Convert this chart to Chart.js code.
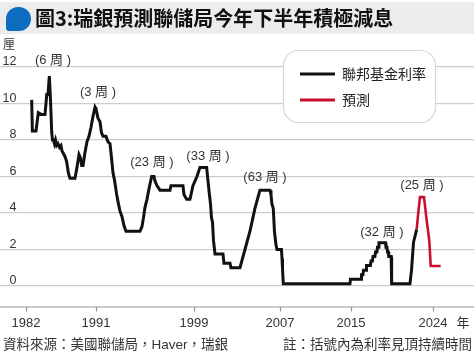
<!DOCTYPE html>
<html>
<head>
<meta charset="utf-8">
<script src="https://cdn.jsdelivr.net/npm/chart.js@4"></script>
<style>
html,body{margin:0;padding:0;background:#fff;}
#wrap{position:relative;width:474px;height:357px;}
</style>
</head>
<body>
<div id="wrap"><canvas id="c" width="474" height="357"></canvas></div>
<script>
const titleText = '圖3:瑞銀預測聯儲局今年下半年積極減息';
const unitText = '厘';
const sourceText = '資料來源：美國聯儲局，Haver，瑞銀';
const noteText = '註：括號內為利率見頂持續時間';
const xUnitText = '年';

const fedYears = [1982.72,1982.79,1983.17,1983.41,1983.76,1984.11,1984.29,1984.42,1984.56,1984.68,1984.81,1984.89,1984.99,1985.09,1985.20,1985.32,1985.46,1985.62,1985.77,1985.88,1986.19,1986.37,1986.54,1986.71,1987.23,1987.44,1987.65,1987.81,1987.93,1988.07,1988.27,1988.48,1988.69,1988.90,1989.11,1989.32,1989.42,1989.63,1989.84,1989.99,1990.15,1990.46,1990.67,1990.88,1991.04,1991.19,1991.35,1991.58,1991.76,1991.92,1992.13,1992.34,1992.55,1994.00,1994.21,1994.37,1994.52,1994.73,1994.97,1995.22,1995.46,1995.57,1995.77,1996.09,1997.13,1997.23,1998.48,1998.59,1998.87,1999.21,1999.32,1999.52,1999.73,1999.94,2000.25,2000.95,2001.04,2001.14,2001.24,2001.35,2001.45,2001.56,2001.66,2001.82,2002.65,2002.75,2003.38,2003.48,2004.42,2004.94,2005.46,2005.98,2006.50,2007.55,2007.65,2007.75,2007.89,2008.01,2008.17,2008.28,2008.74,2008.80,2008.85,2008.93,2015.88,2015.93,2017.03,2017.08,2017.23,2017.29,2017.55,2017.60,2018.01,2018.07,2018.22,2018.28,2018.48,2018.54,2018.69,2018.74,2018.85,2018.90,2019.58,2019.63,2019.73,2019.79,2019.87,2019.92,2020.17,2020.22,2022.13,2022.18,2022.29,2022.39,2022.50,2022.83];
const fedRates = [10.2,8.5,8.5,9.5,9.4,9.4,10.5,10.5,11.5,10.2,8.4,8.0,8.0,7.8,8.0,7.7,7.8,7.6,7.7,7.4,7.1,6.8,6.2,5.9,5.9,6.5,7.2,7.0,6.6,6.6,7.3,7.9,8.2,8.7,9.3,9.8,9.7,9.2,9.0,8.4,8.2,8.2,7.9,7.8,7.0,6.2,5.8,5.0,4.5,4.1,3.8,3.3,3.0,3.0,3.25,3.75,4.3,4.75,5.4,6.0,6.0,5.75,5.5,5.25,5.25,5.5,5.5,5.0,4.75,4.75,5.0,5.5,5.75,6.0,6.5,6.5,6.0,5.5,5.0,4.5,3.75,3.5,2.5,1.75,1.75,1.25,1.25,1.0,1.0,2.0,3.0,4.25,5.25,5.25,5.0,4.5,4.25,3.0,2.25,2.0,2.0,1.5,1.0,0.12,0.12,0.37,0.37,0.62,0.62,0.87,0.87,1.12,1.12,1.37,1.37,1.62,1.62,1.87,1.87,2.12,2.12,2.37,2.37,2.12,2.12,1.87,1.87,1.62,1.62,0.12,0.12,0.37,0.87,1.6,2.4,3.1];

const fcstYears = [2022.83,2022.99,2023.17,2023.59,2023.87,2024.14,2024.29,2025.33];
const fcstRates = [3.1,4.0,4.87,4.87,3.6,2.5,1.1,1.1];

const seriesLabels = ['聯邦基金利率','預測'];
const seriesColors = ['#111111','#c8102e'];

const yTickValues = [0,2,4,6,8,10,12];
const yTickLabels = ['0','2','4','6','8','10','12'];
const xTickYears = [1982.13,1989.42,1999.63,2008.59,2015.98,2024.52];
const xTickLabels = ['1982','1991','1999','2007','2015','2024'];

const noteLabels = ['(6 周 )','(3 周 )','(23 周 )','(33 周 )','(63 周 )','(32 周 )','(25 周 )'];
const noteYears = [1984.94,1989.63,1995.25,2001.09,2007.03,2019.21,2023.38];
const noteRates = [12.38,10.63,6.79,7.12,5.97,2.96,5.53];

const FONT = '"Liberation Sans","Noto Sans CJK TC",sans-serif';
const TEXT = '#333';

const decor = {
  id: 'decor',
  beforeDraw(chart) {
    const ctx = chart.ctx;
    ctx.save();
    ctx.fillStyle = '#fff';
    ctx.fillRect(0, 0, chart.width, chart.height);
    ctx.fillStyle = '#ececec';
    ctx.fillRect(0, 2, chart.width, 32);
    ctx.fillStyle = '#0e6cc0';
    ctx.beginPath();
    ctx.roundRect(6, 7, 25, 24, [12, 12, 12, 3]);
    ctx.fill();
    ctx.fillStyle = '#111';
    ctx.font = 'bold 20px "Noto Sans CJK TC",sans-serif';
    ctx.textBaseline = 'middle';
    ctx.textAlign = 'left';
    ctx.fillText(titleText, 35, 18.5);
    ctx.restore();
  },
  afterDraw(chart) {
    const ctx = chart.ctx;
    const xs = chart.scales.x, ys = chart.scales.y;
    const area = chart.chartArea;
    ctx.save();
    ctx.fillStyle = TEXT;
    ctx.font = '12.5px ' + FONT;
    ctx.textAlign = 'right';
    ctx.textBaseline = 'alphabetic';
    yTickValues.forEach((v, i) => {
      ctx.fillText(yTickLabels[i], 16.5, ys.getPixelForValue(v) - 2);
    });
    ctx.textAlign = 'left';
    ctx.font = '12px "Noto Sans CJK TC",sans-serif';
    ctx.textBaseline = 'middle';
    ctx.fillText(unitText, 3, 44);
    ctx.strokeStyle = '#999';
    ctx.lineWidth = 1.2;
    ctx.beginPath();
    ctx.moveTo(0, area.bottom);
    ctx.lineTo(chart.width, area.bottom);
    xTickYears.forEach(v => {
      const px = Math.round(xs.getPixelForValue(v)) + 0.5;
      ctx.moveTo(px, area.bottom);
      ctx.lineTo(px, area.bottom + 4.5);
    });
    ctx.stroke();
    ctx.fillStyle = TEXT;
    ctx.font = '13px ' + FONT;
    ctx.textAlign = 'center';
    ctx.textBaseline = 'middle';
    xTickYears.forEach((v, i) => {
      ctx.fillText(xTickLabels[i], xs.getPixelForValue(v), 323);
    });
    ctx.fillText(xUnitText, 463, 323);
    noteLabels.forEach((t, i) => {
      ctx.fillText(t, xs.getPixelForValue(noteYears[i]), ys.getPixelForValue(noteRates[i]));
    });
    ctx.font = '13.5px ' + FONT;
    ctx.textAlign = 'left';
    ctx.fillText(sourceText, 3, 345);
    ctx.textAlign = 'right';
    ctx.fillText(noteText, 472, 345);
    ctx.fillStyle = '#fff';
    ctx.strokeStyle = '#d6d6d6';
    ctx.lineWidth = 1.2;
    ctx.beginPath();
    ctx.roundRect(283.5, 50.5, 152, 72, 15);
    ctx.fill();
    ctx.stroke();
    const ly = [74, 100];
    chart.data.datasets.forEach((ds, i) => {
      ctx.strokeStyle = ds.borderColor;
      ctx.lineWidth = 3;
      ctx.beginPath();
      ctx.moveTo(300, ly[i]);
      ctx.lineTo(335, ly[i]);
      ctx.stroke();
      ctx.fillStyle = '#222';
      ctx.font = '14px "Noto Sans CJK TC",sans-serif';
      ctx.textAlign = 'left';
      ctx.textBaseline = 'middle';
      ctx.fillText(ds.label, 342, ly[i]);
    });
    ctx.restore();
  }
};

new Chart(document.getElementById('c'), {
  type: 'line',
  data: {
    datasets: [
      {
        label: seriesLabels[0],
        data: fedYears.map((x, i) => ({x: x, y: fedRates[i]})),
        borderColor: seriesColors[0],
        borderWidth: 3,
        pointRadius: 0,
        tension: 0,
        borderJoinStyle: 'miter',
        fill: false
      },
      {
        label: seriesLabels[1],
        data: fcstYears.map((x, i) => ({x: x, y: fcstRates[i]})),
        borderColor: seriesColors[1],
        borderWidth: 2.6,
        pointRadius: 0,
        tension: 0,
        borderJoinStyle: 'miter',
        fill: false
      }
    ]
  },
  options: {
    responsive: false,
    animation: false,
    devicePixelRatio: 1,
    layout: { padding: { top: 48.75, bottom: 50, left: 0, right: 0 } },
    plugins: { legend: { display: false }, tooltip: { enabled: false } },
    scales: {
      x: { type: 'linear', min: 1979.42, max: 2028.8, display: false },
      y: {
        type: 'linear',
        min: -1.15,
        max: 13,
        display: true,
        border: { display: false },
        ticks: { display: false },
        grid: { color: '#cdcdcd', lineWidth: 1.3, drawTicks: false },
        afterBuildTicks: (s) => { s.ticks = yTickValues.map(v => ({value: v})); }
      }
    }
  },
  plugins: [decor]
});
</script>
</body>
</html>
